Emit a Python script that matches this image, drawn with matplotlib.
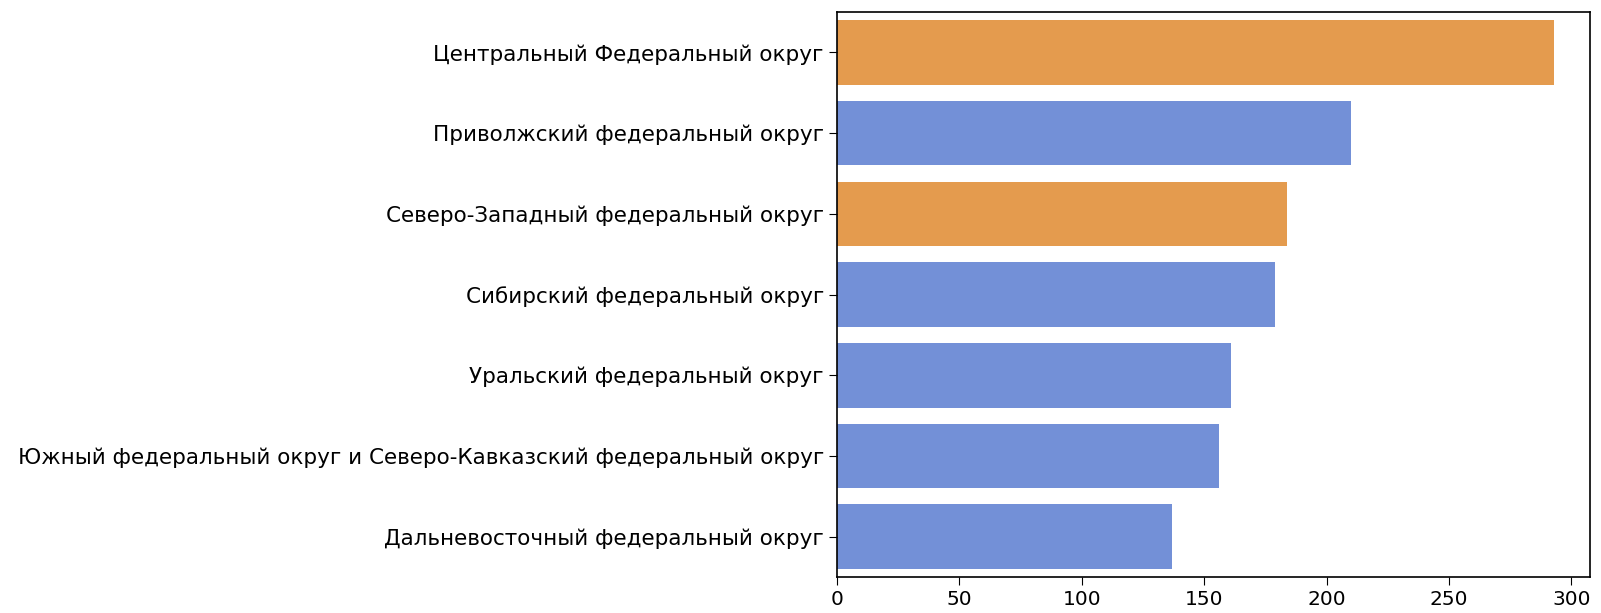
import matplotlib
matplotlib.use("Agg")
import matplotlib.pyplot as plt

regions = [
    "Центральный Федеральный округ",
    "Приволжский федеральный округ",
    "Северо-Западный федеральный округ",
    "Сибирский федеральный округ",
    "Уральский федеральный округ",
    "Южный федеральный округ и Северо-Кавказский федеральный округ",
    "Дальневосточный федеральный округ",
]
values = [293, 210, 184, 179, 161, 156, 137]
highlight = [True, False, True, False, False, False, False]

ORANGE = "#e49b4e"
BLUE = "#7390d7"
colors = [ORANGE if h else BLUE for h in highlight]

plt.rcParams['font.family'] = ['DejaVu Sans']
W, H = 1601, 613
fig = plt.figure(figsize=(W / 100, H / 100), dpi=100)
left, right, top, bottom = 837, 1590, 12, 577
ax = fig.add_axes([left / W, 1 - bottom / H, (right - left) / W, (bottom - top) / H])

ypos = list(range(len(regions)))
ax.barh(ypos, values, height=0.8, color=colors)
ax.set_yticks(ypos)
ax.set_yticklabels(regions, fontsize=15.5)
ax.set_ylim(len(regions) - 0.5, -0.5)
ax.set_xlim(0, max(values) * 1.05)
ax.set_xticks([0, 50, 100, 150, 200, 250, 300])
ax.tick_params(axis='x', labelsize=14.5, length=6)
ax.tick_params(axis='y', length=6)
for s in ax.spines.values():
    s.set_linewidth(1.2)

fig.savefig("out.png", dpi=100)
